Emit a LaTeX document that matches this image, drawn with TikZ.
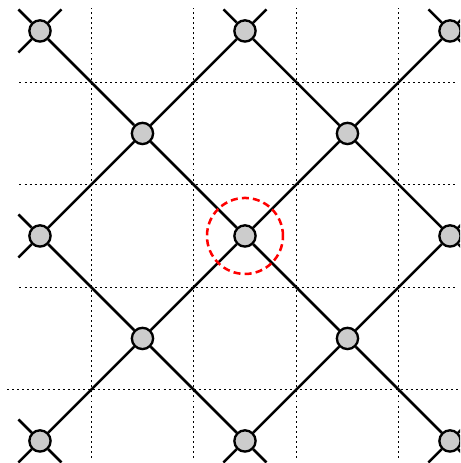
\documentclass[tikz,border=0pt]{standalone}
\usepackage{tikz}

\tikzset{
  site/.style={circle, draw, line width=1.3pt, fill=gray!40, minimum size=11.8pt, inner sep=0pt},
  bond/.style={line width=1.4pt},
  gridline/.style={line width=0.6pt, dash pattern=on 1.1pt off 1.7pt},
  marker/.style={circle, draw=red, line width=1.4pt, dash pattern=on 3.9pt off 2.3pt, minimum size=42.2pt, inner sep=0pt}
}

\begin{document}
\begin{tikzpicture}[x=2cm,y=2cm]
  \useasboundingbox (-0.39,-0.215) rectangle (4.098,4.302);
  \clip (-0.39,-0.215) rectangle (4.098,4.302);

  % dotted grid
  \foreach \x in {0.5,1.5,2.5,3.5}
    \draw[gridline] (\x,-0.166) -- (\x,4.22);
  \foreach \y in {1.5,2.5,3.5}
    \draw[gridline] (-0.2,\y) -- (4.08,\y);
  \draw[gridline] (-0.32,0.5) -- (4.08,0.5);

  % sites
  \foreach \i in {0,...,4}
    \foreach \j in {0,...,4} {
      \pgfmathtruncatemacro{\odd}{mod(\i+\j,2)}
      \ifnum\odd=0
        \node[site] (s\i\j) at (\i,\j) {};
      \fi
    }

  % bonds between neighbouring sites
  \foreach \i in {0,...,3}
    \foreach \j in {0,...,4} {
      \pgfmathtruncatemacro{\odd}{mod(\i+\j,2)}
      \pgfmathtruncatemacro{\ii}{\i+1}
      \pgfmathtruncatemacro{\up}{\j+1}
      \pgfmathtruncatemacro{\dn}{\j-1}
      \ifnum\odd=0
        \ifnum\j<4 \draw[bond] (s\i\j) -- (s\ii\up); \fi
        \ifnum\j>0 \draw[bond] (s\i\j) -- (s\ii\dn); \fi
      \fi
    }

  % loose ends on the border
  \foreach \i in {0,...,4}
    \foreach \j in {0,...,4} {
      \pgfmathtruncatemacro{\odd}{mod(\i+\j,2)}
      \ifnum\odd=0
        \foreach \a/\b in {1/1,1/-1,-1/1,-1/-1} {
          \pgfmathtruncatemacro{\ni}{\i+\a}
          \pgfmathtruncatemacro{\nj}{\j+\b}
          \pgfmathtruncatemacro{\out}{(\ni<0)||(\ni>4)||(\nj<0)||(\nj>4)}
          \ifnum\out=1
            \draw[bond] (s\i\j) -- +(0.21*\a,0.21*\b);
          \fi
        }
      \fi
    }

  % marked site
  \node[marker] (focus) at (s22) {};
\end{tikzpicture}
\end{document}
